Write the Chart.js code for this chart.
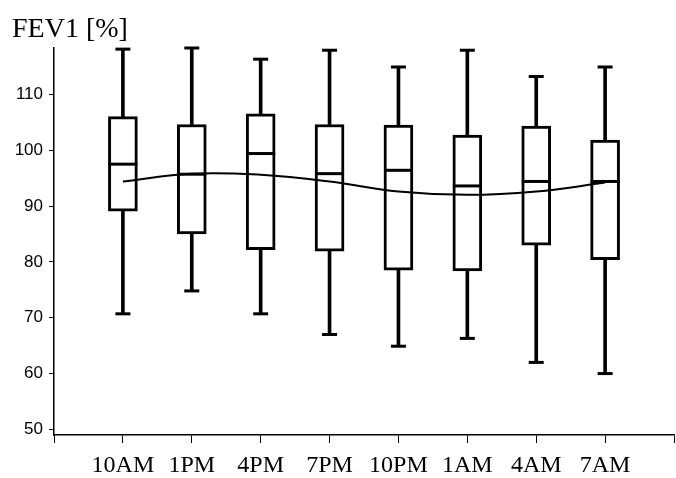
<!DOCTYPE html>
<html>
<head>
<meta charset="utf-8">
<script src="https://cdn.jsdelivr.net/npm/chart.js@4/dist/chart.umd.min.js"></script>
<style>
  html, body { margin: 0; padding: 0; background: #fff; }
  #wrap { width: 676px; height: 478px; }
</style>
</head>
<body>
<div id="wrap"><canvas id="c" width="676" height="478"></canvas></div>
<script>
const categories  = ['10AM', '1PM', '4PM', '7PM', '10PM', '1AM', '4AM', '7AM'];
const whiskerLow  = [70.7, 74.8, 70.7, 67.0, 64.9, 66.3, 62.0, 60.0];
const q1          = [89.1, 85.0, 82.2, 81.9, 78.5, 78.4, 83.0, 80.4];
const median      = [97.5, 95.7, 99.4, 95.8, 96.4, 93.6, 94.4, 94.4];
const q3          = [106.0, 104.6, 106.5, 104.6, 104.5, 102.7, 104.3, 101.8];
const whiskerHigh = [118.1, 118.3, 116.3, 117.9, 114.9, 117.9, 113.2, 114.9];
const trend       = [94.4, 95.8, 95.6, 94.4, 92.6, 92.0, 92.6, 94.2];
const yTicks      = [50, 60, 70, 80, 90, 100, 110];
const yTitle      = 'FEV1 [%]';

const pos = categories.map((_, i) => i + 1);
const xy = (arr) => arr.map((v, i) => ({ x: pos[i], y: v }));
const rng = (a, b) => a.map((v, i) => ({ x: pos[i], y: [v, b[i]] }));

Chart.defaults.color = '#000';
Chart.defaults.animation = false;

new Chart(document.getElementById('c'), {
  type: 'bar',
  data: {
    datasets: [
      { type: 'bar', data: rng(whiskerLow, q1), backgroundColor: '#000', borderWidth: 0,
        barThickness: 3, grouped: false, order: 6 },
      { type: 'bar', data: rng(q3, whiskerHigh), backgroundColor: '#000', borderWidth: 0,
        barThickness: 3, grouped: false, order: 6 },
      { type: 'bar', data: rng(q1, q3), backgroundColor: '#fff', borderColor: '#000',
        borderWidth: 3, borderSkipped: false, barThickness: 29, grouped: false, order: 5 },
      { type: 'line', data: xy(median), showLine: false, pointStyle: 'line',
        pointRadius: 14.5, pointBorderWidth: 3, borderColor: '#000', order: 4 },
      { type: 'line', data: xy(trend), borderColor: '#000', borderWidth: 2,
        pointRadius: 0, tension: 0.4, fill: false, order: 3 },
      { type: 'line', data: xy(whiskerHigh), showLine: false, pointStyle: 'line',
        pointRadius: 7.5, pointBorderWidth: 3, borderColor: '#000', clip: false, order: 2 },
      { type: 'line', data: xy(whiskerLow), showLine: false, pointStyle: 'line',
        pointRadius: 7.5, pointBorderWidth: 3, borderColor: '#000', clip: false, order: 2 }
    ]
  },
  options: {
    responsive: false,
    animation: false,
    layout: { autoPadding: false, padding: { left: 12, right: 2, top: 0, bottom: 0 } },
    plugins: {
      legend: { display: false },
      tooltip: { enabled: false },
      title: {
        display: true, text: yTitle, align: 'start', color: '#000',
        font: { family: 'Liberation Serif', size: 28, weight: 'normal', lineHeight: 1.2 },
        padding: { top: 13, bottom: 1.4 }
      }
    },
    scales: {
      x: {
        type: 'linear', min: 0, max: pos.length + 1, offset: false,
        afterFit: (s) => { s.height = 43; s.paddingLeft = 0; s.paddingRight = 0; },
        grid: { display: true, drawOnChartArea: false, drawTicks: true, tickLength: 8,
                color: '#000', lineWidth: 1, offset: false },
        border: { display: true, color: '#000', width: 1.5 },
        ticks: {
          stepSize: 1, autoSkip: false, maxRotation: 0, minRotation: 0, padding: 8,
          color: '#000', font: { family: 'Liberation Serif', size: 24 },
          callback: (v) => (v >= 1 && v <= categories.length) ? categories[v - 1] : ''
        }
      },
      y: {
        type: 'linear', min: 49, max: 118.3,
        afterFit: (s) => { s.width = 42; },
        afterBuildTicks: (s) => { s.ticks = yTicks.map(v => ({ value: v })); },
        grid: { display: true, drawOnChartArea: false, drawTicks: true, tickLength: 5,
                color: '#000', lineWidth: 1 },
        border: { display: true, color: '#000', width: 1.5 },
        ticks: { padding: 6, color: '#000', font: { family: 'Liberation Sans', size: 17 } }
      }
    }
  }
});
</script>
</body>
</html>
